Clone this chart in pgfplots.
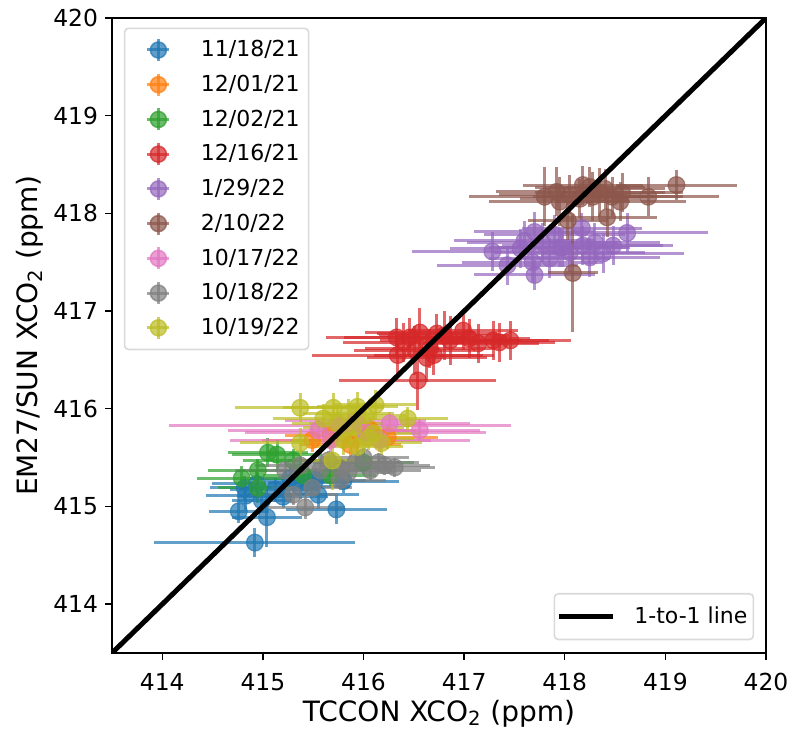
\documentclass[border=0pt]{standalone}
\usepackage{fontspec}
\setmainfont{DejaVu Sans}
\usepackage{pgfplots}
\pgfplotsset{compat=1.18}

\definecolor{tabblue}{HTML}{1F77B4}
\definecolor{taborange}{HTML}{FF7F0E}
\definecolor{tabgreen}{HTML}{2CA02C}
\definecolor{tabred}{HTML}{D62728}
\definecolor{tabpurple}{HTML}{9467BD}
\definecolor{tabbrown}{HTML}{8C564B}
\definecolor{tabpink}{HTML}{E377C2}
\definecolor{tabgray}{HTML}{7F7F7F}
\definecolor{tabolive}{HTML}{BCBD22}

\pgfplotsset{
  errpts/.style={
    color=#1, solid, only marks, mark=*, mark size=4.2pt,
    mark options={fill opacity=0.7, draw opacity=0.7, line width=0.6pt},
    legend image code/.code={
      \path (0pt,0pt);
      \draw[line width=1.5pt, opacity=0.7] (8.5pt,0pt) -- (19.5pt,0pt);
      \draw[line width=1.5pt, opacity=0.7] (14pt,-5.5pt) -- (14pt,5.5pt);
      \fill[opacity=0.7] (14pt,0pt) circle (4pt);
    },
    error bars/.cd, x dir=both, x explicit, y dir=both, y explicit,
    error mark=none, error bar style={solid, line width=1.5pt, opacity=0.7},
  },
  frame/.style={
    width=327pt, height=317.5pt, scale only axis,
    xmin=413.5, xmax=420, ymin=413.5, ymax=420,
    xtick={414,...,420}, ytick={414,...,420},
    tick align=outside, tick pos=left,
    major tick length=3.5pt,
    axis line style={line width=0.8pt},
    every tick/.style={line width=0.7pt, black},
    /pgf/number format/.cd, assume math mode=true, 1000 sep={},
  },
}

\begin{document}
\begin{tikzpicture}
\begin{axis}[frame,
  tick label style={font=\fontsize{11.7}{13}\selectfont},
  xticklabel style={yshift=-3pt},
  label style={font=\fontsize{14}{16}\selectfont},
  xlabel={TCCON XCO\textsubscript{2} (ppm)},
  ylabel={EM27/SUN XCO\textsubscript{2} (ppm)},
  xlabel style={at={(axis description cs:0.5,-0.095)}, anchor=center},
  ylabel style={at={(axis description cs:-0.1254,0.5)}, anchor=center},
  legend style={at={(0.018,0.985)}, anchor=north west,
    font=\fontsize{11}{13}\selectfont,
    draw=black!15, rounded corners=2pt, line width=0.8pt,
    inner xsep=2.5pt, inner ysep=4pt, column sep=13pt, row sep=3.7pt,
    legend cell align=left},
]
\coordinate (ll) at (rel axis cs:0,0);
\coordinate (ur) at (rel axis cs:1,1);
% 11/18/21
\addplot[errpts=tabblue] coordinates {
(414.92,414.63) +- (1.00,0.15)
(414.76,414.95) +- (0.30,0.12)
(415.04,414.89) +- (0.35,0.30)
(415.73,414.97) +- (0.50,0.15)
(414.83,415.11) +- (0.40,0.15)
(414.99,415.06) +- (0.30,0.12)
(415.12,415.17) +- (0.45,0.12)
(415.37,415.20) +- (0.50,0.12)
(415.55,415.12) +- (0.40,0.15)
(415.80,415.26) +- (0.55,0.12)
(414.94,415.23) +- (0.45,0.15)
(415.27,415.29) +- (0.40,0.12)
(415.52,415.27) +- (0.50,0.12)
(414.82,415.19) +- (0.35,0.12)
(415.20,415.10) +- (0.45,0.12)
(415.45,415.25) +- (0.40,0.12)
};
% 12/01/21
\addplot[errpts=taborange] coordinates {
(415.49,415.68) +- (0.50,0.12)
(415.67,415.73) +- (0.45,0.12)
(416.24,415.71) +- (0.50,0.12)
(415.87,415.63) +- (0.50,0.12)
(416.07,415.78) +- (0.45,0.12)
};
% 12/02/21
\addplot[errpts=tabgreen] coordinates {
(414.79,415.29) +- (0.45,0.12)
(414.95,415.37) +- (0.50,0.12)
(414.95,415.19) +- (0.40,0.15)
(415.05,415.55) +- (0.40,0.15)
(415.14,415.53) +- (0.45,0.15)
(415.30,415.47) +- (0.50,0.12)
(415.67,415.32) +- (0.45,0.12)
(416.00,415.45) +- (0.50,0.12)
(415.40,415.32) +- (0.40,0.12)
};
% 12/16/21
\addplot[errpts=tabred] coordinates {
(416.33,416.73) +- (0.70,0.20)
(416.34,416.55) +- (0.85,0.20)
(416.54,416.29) +- (0.78,0.30)
(416.63,416.52) +- (0.60,0.25)
(416.56,416.78) +- (0.55,0.25)
(416.46,416.73) +- (0.65,0.20)
(416.73,416.77) +- (0.60,0.20)
(416.99,416.80) +- (0.55,0.20)
(417.14,416.67) +- (0.60,0.20)
(417.29,416.70) +- (0.55,0.20)
(417.46,416.70) +- (0.60,0.20)
(416.86,416.70) +- (0.70,0.25)
(416.66,416.62) +- (0.65,0.20)
(416.51,416.60) +- (0.60,0.25)
(416.40,416.68) +- (0.60,0.20)
(416.80,416.75) +- (0.65,0.25)
(417.05,416.72) +- (0.60,0.20)
(417.35,416.68) +- (0.55,0.20)
(416.70,416.55) +- (0.60,0.20)
};
% 1/29/22
\addplot[errpts=tabpurple] coordinates {
(417.28,417.61) +- (0.80,0.20)
(417.43,417.47) +- (0.70,0.20)
(417.70,417.37) +- (0.60,0.15)
(417.68,417.50) +- (0.70,0.20)
(417.70,417.81) +- (0.60,0.20)
(417.78,417.70) +- (0.75,0.20)
(417.95,417.65) +- (0.70,0.20)
(418.17,417.85) +- (0.60,0.15)
(418.18,417.67) +- (0.80,0.20)
(418.38,417.59) +- (0.80,0.20)
(418.48,417.67) +- (0.60,0.20)
(418.62,417.80) +- (0.80,0.20)
(417.98,417.65) +- (0.65,0.20)
(417.56,417.64) +- (0.70,0.20)
(417.85,417.54) +- (0.60,0.20)
(417.60,417.72) +- (0.70,0.20)
(418.05,417.60) +- (0.75,0.20)
(418.30,417.70) +- (0.65,0.20)
(417.90,417.78) +- (0.70,0.20)
(418.25,417.55) +- (0.70,0.20)
};
% 2/10/22
\addplot[errpts=tabbrown] coordinates {
(417.80,418.17) +- (0.75,0.30)
(417.92,418.22) +- (0.60,0.25)
(418.05,418.19) +- (0.70,0.20)
(418.18,418.29) +- (0.60,0.20)
(418.35,418.21) +- (0.65,0.25)
(418.47,418.17) +- (0.70,0.20)
(418.57,418.21) +- (0.60,0.20)
(418.83,418.17) +- (0.70,0.20)
(419.11,418.29) +- (0.60,0.15)
(418.03,417.93) +- (0.40,0.20)
(418.42,417.96) +- (0.50,0.20)
(418.08,417.39) +- (0.25,0.60)
(418.28,418.17) +- (0.60,0.25)
(418.25,418.27) +- (0.55,0.20)
(418.40,418.25) +- (0.60,0.20)
(418.55,418.12) +- (0.65,0.20)
(417.95,418.12) +- (0.70,0.25)
(418.15,418.15) +- (0.60,0.20)
};
% 10/17/22
\addplot[errpts=tabpink] coordinates {
(415.55,415.78) +- (0.90,0.12)
(415.77,415.83) +- (1.70,0.12)
(416.02,415.76) +- (1.20,0.12)
(416.26,415.85) +- (0.80,0.12)
(416.56,415.78) +- (0.60,0.12)
(415.67,415.68) +- (1.00,0.12)
(415.92,415.88) +- (0.70,0.12)
(416.16,415.68) +- (0.90,0.12)
};
% 10/18/22
\addplot[errpts=tabgray] coordinates {
(415.30,415.12) +- (0.45,0.10)
(415.42,414.99) +- (0.40,0.12)
(415.49,415.19) +- (0.40,0.10)
(415.22,415.37) +- (0.50,0.10)
(415.37,415.42) +- (0.45,0.10)
(415.57,415.37) +- (0.45,0.10)
(415.77,415.39) +- (0.50,0.10)
(415.92,415.45) +- (0.45,0.10)
(416.07,415.37) +- (0.50,0.10)
(416.21,415.42) +- (0.45,0.10)
(416.31,415.40) +- (0.40,0.10)
(415.77,415.27) +- (0.45,0.10)
(416.00,415.50) +- (0.45,0.10)
(415.65,415.47) +- (0.40,0.10)
(415.85,415.35) +- (0.45,0.10)
(416.15,415.45) +- (0.40,0.10)
};
% 10/19/22
\addplot[errpts=tabolive] coordinates {
(415.37,416.01) +- (0.65,0.15)
(415.70,416.01) +- (0.50,0.15)
(415.94,416.02) +- (0.40,0.15)
(416.12,416.04) +- (0.40,0.15)
(416.44,415.90) +- (0.40,0.12)
(415.37,415.65) +- (0.60,0.15)
(415.69,415.47) +- (0.40,0.30)
(415.74,415.85) +- (0.45,0.15)
(415.80,415.68) +- (0.50,0.15)
(415.94,415.61) +- (0.45,0.12)
(416.10,415.75) +- (0.45,0.12)
(416.18,415.65) +- (0.40,0.12)
(415.90,415.81) +- (0.50,0.12)
(416.02,415.93) +- (0.40,0.12)
(415.60,415.90) +- (0.50,0.15)
(416.05,415.70) +- (0.45,0.12)
(415.85,415.95) +- (0.45,0.15)
};
\legend{11/18/21,12/01/21,12/02/21,12/16/21,1/29/22,2/10/22,10/17/22,10/18/22,10/19/22}
\end{axis}
\begin{axis}[frame, hide axis,
  legend style={at={(0.982,0.02)}, anchor=south east,
    font=\fontsize{11}{13}\selectfont,
    draw=black!15, rounded corners=2pt, line width=0.8pt,
    inner xsep=1pt, inner ysep=4.5pt, column sep=7.5pt},
  legend image code/.code={\draw[line width=2.5pt] (0.1cm,0cm) -- (1.05cm,0cm);},
]
\addplot[black, line width=2.5pt] coordinates {(413.5,413.5) (420,420)};
\legend{1-to-1 line}
\end{axis}
\pgfresetboundingbox
\path[use as bounding box] ([shift={(-56pt,-41.5pt)}]ll) rectangle ([shift={(11pt,9pt)}]ur);
\end{tikzpicture}
\end{document}
